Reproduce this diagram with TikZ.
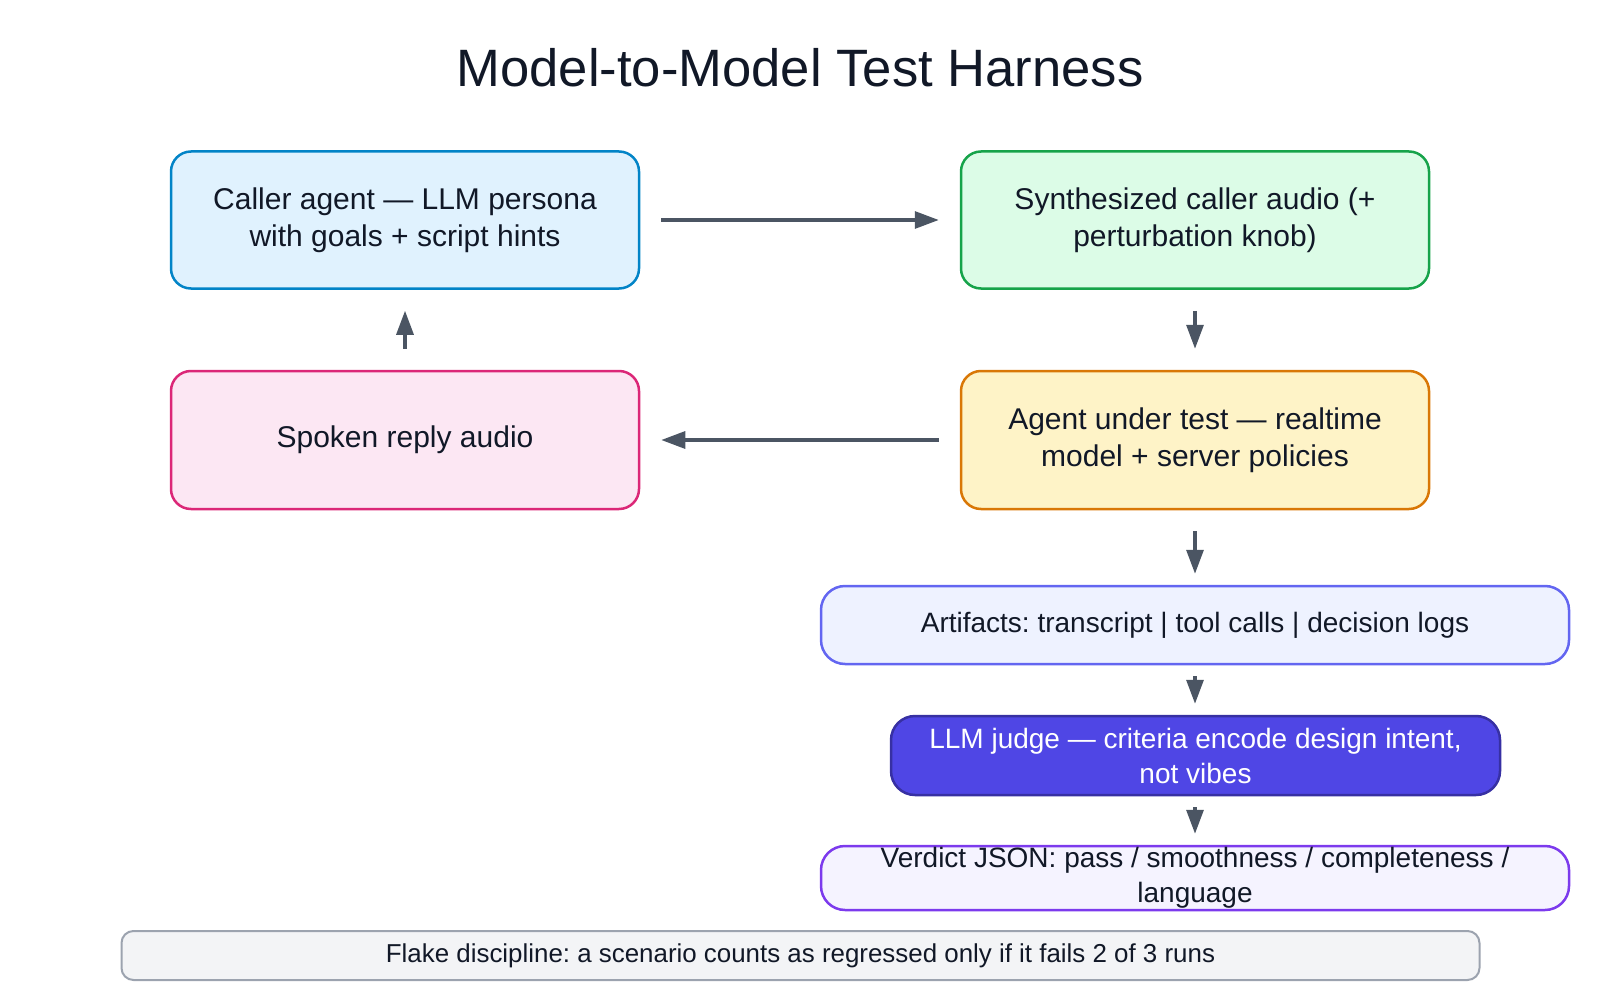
\documentclass[tikz,border=0pt]{standalone}
\usepackage{fontspec}
\setmainfont{Liberation Sans}
\usetikzlibrary{arrows.meta}
\frenchspacing
\definecolor{txt}{HTML}{111827}
\definecolor{arrc}{HTML}{4B5563}
\definecolor{cfill}{HTML}{E0F2FE}\definecolor{cdraw}{HTML}{0284C7}
\definecolor{sfill}{HTML}{DCFCE7}\definecolor{sdraw}{HTML}{16A34A}
\definecolor{afill}{HTML}{FEF3C7}\definecolor{adraw}{HTML}{D97706}
\definecolor{pfill}{HTML}{FCE7F3}\definecolor{pdraw}{HTML}{DB2777}
\definecolor{rfill}{HTML}{EEF2FF}\definecolor{rdraw}{HTML}{6366F1}
\definecolor{jfill}{HTML}{4F46E5}\definecolor{jdraw}{HTML}{3730A3}
\definecolor{vfill}{HTML}{F5F3FF}\definecolor{vdraw}{HTML}{7C3AED}
\definecolor{ffill}{HTML}{F3F4F6}\definecolor{fdraw}{HTML}{9CA3AF}
\tikzset{
  bigbox/.style={rectangle, rounded corners=20pt, line width=2.5pt, minimum width=468pt, minimum height=137pt, inner sep=0pt, align=center, text=txt, font=\fontsize{30}{36.5}\selectfont},
  smallbox/.style={rectangle, rounded corners=24pt, line width=2.5pt, inner sep=0pt, align=center, text=txt, font=\fontsize{28}{35}\selectfont},
  arr/.style={draw=arrc, line width=3.2pt, -{Triangle[length=24pt,width=17pt]}},
}
\begin{document}
\begin{tikzpicture}[x=1pt,y=-1pt]
\useasboundingbox (0,0) rectangle (1600,1000);
\node[text=txt, font=\fontsize{52.6}{60}\selectfont] (title) at (800,68) {Model-to-Model Test Harness};

\node[bigbox, fill=cfill, draw=cdraw] (caller) at (405,220) {Caller agent — LLM persona\\with goals + script hints};
\node[bigbox, fill=sfill, draw=sdraw] (synth) at (1195,220) {Synthesized caller audio (+\\perturbation knob)};
\node[bigbox, fill=pfill, draw=pdraw, minimum height=138pt] (spoken) at (405,440) {Spoken reply audio};
\node[bigbox, fill=afill, draw=adraw, minimum height=138pt] (agent) at (1195,440) {Agent under test — realtime\\model + server policies};

\node[smallbox, fill=rfill, draw=rdraw, minimum width=748pt, minimum height=78pt] (artifacts) at (1195,625) {Artifacts: transcript | tool calls | decision logs};
\node[smallbox, fill=jfill, draw=jdraw, text=white, minimum width=609pt, minimum height=79pt] (judge) at (1195.5,755.5) {LLM judge — criteria encode design intent,\\not vibes};
\node[smallbox, fill=vfill, draw=vdraw, minimum width=748pt, minimum height=64pt] (verdict) at (1195,878) {Verdict JSON: pass / smoothness / completeness /\\language};
\node[rectangle, rounded corners=12pt, line width=2pt, fill=ffill, draw=fdraw, minimum width=1358pt, minimum height=49pt, inner sep=0pt, text=txt, font=\fontsize{25.9}{30}\selectfont] (flake) at (800.5,955.5) {Flake discipline: a scenario counts as regressed only if it fails 2 of 3 runs};

\draw[arr, shorten <=21pt, shorten >=21pt] (caller) -- (synth);
\draw[arr, shorten <=21pt, shorten >=21pt] (synth) -- (agent);
\draw[arr, shorten <=21pt, shorten >=21pt] (agent) -- (spoken);
\draw[arr, shorten <=21pt, shorten >=21pt] (spoken) -- (caller);
\draw[arr, shorten <=21pt, shorten >=11pt] (agent) -- (artifacts);
\draw[arr, shorten <=11pt, shorten >=11pt] (artifacts.south) -- (artifacts.south |- judge.north);
\draw[arr, shorten <=11pt, shorten >=11pt] (judge.south -| verdict.north) -- (verdict.north);
\end{tikzpicture}
\end{document}
